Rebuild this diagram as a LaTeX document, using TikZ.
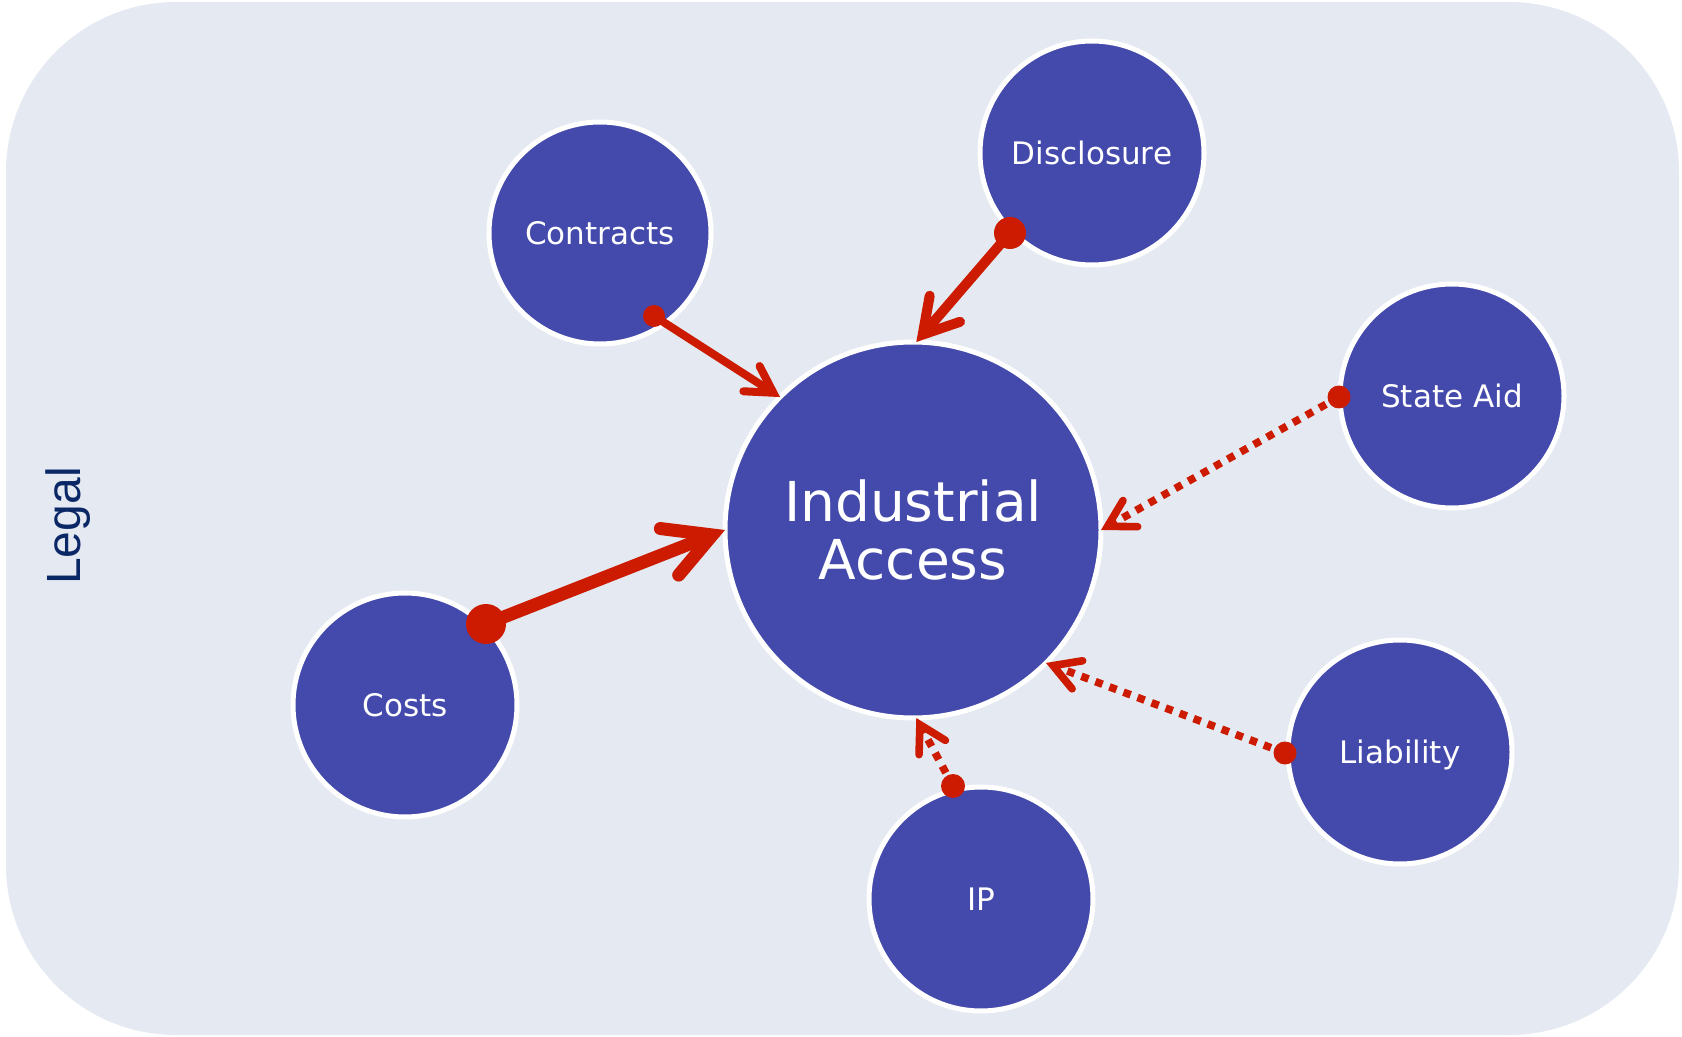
\documentclass[tikz,border=0pt]{standalone}
\usepackage{fontspec}
\setmainfont{DejaVu Sans}
\newfontfamily\legalfont{Liberation Sans}
\usetikzlibrary{arrows.meta}
\definecolor{bgpanel}{HTML}{E4E9F2}
\definecolor{bubble}{HTML}{444AAB}
\definecolor{arrowred}{HTML}{CC1B00}
\definecolor{navy}{HTML}{0B2866}
\tikzset{
  bub/.style={circle, fill=bubble, draw=white, line width=2.5pt, inner sep=0pt, outer sep=0pt,
    minimum size=112pt, text=white, font=\fontsize{15.5}{18}\selectfont},
  bigbub/.style={bub, minimum size=188pt, align=center, font=\fontsize{27.5}{29}\selectfont},
  link/.style={draw=arrowred, line cap=round},
  dotlink/.style={draw=arrowred, line width=3.8pt, dash pattern=on 3.8pt off 3.7pt,
    -{Straight Barb[length=13pt, width=15pt, line cap=round, line join=miter]}},
  reddot/.style={fill=arrowred, circle, inner sep=0pt}
}
\begin{document}
\begin{tikzpicture}[x=0.5pt, y=-0.5pt]
\useasboundingbox (0,0) rectangle (1682,1037);
\fill[bgpanel, rounded corners=85pt] (6,2) rectangle (1679,1035);
\node[text=navy, font=\legalfont\fontsize{24}{28}\selectfont, rotate=90] (legal) at (68,526) {Legal};

\node[bigbub] (ia) at (913,530) {Industrial\\Access};
\node[bub, minimum size=111pt] (contracts) at (600,233) {Contracts};
\node[bub] (disclosure) at (1092,153) {Disclosure};
\node[bub] (stateaid) at (1452,396) {State Aid};
\node[bub] (liability) at (1400,752) {\raisebox{0pt}[\height][0pt]{Liability}};
\node[bub] (ip) at (981,899) {IP};
\node[bub] (costs) at (405,705) {Costs};

% dot anchors
\coordinate (dc) at (654,316);
\coordinate (dd) at (1010,233);
\coordinate (ds) at (1339,397);
\coordinate (dl) at (1285,753);
\coordinate (di) at (953,786);
\coordinate (dk) at (486,624);

% arrows
\draw[link, line width=4pt, -{Straight Barb[length=13pt, width=15pt, line cap=round, line join=miter]}] (dc) -- (ia.135);
\draw[link, line width=5pt, -{Straight Barb[length=17pt, width=20pt, line cap=round, line join=miter]}] (dd) -- (ia.89);
\draw[link, line width=6.5pt, -{Straight Barb[length=23pt, width=25pt, line cap=round, line join=miter]}] (dk) -- (ia.180);
\draw[dotlink] (ds) -- (ia.0);
\draw[dotlink] (dl) -- (ia.-45);
\draw[dotlink] (di) -- (ia.-89);

\node[reddot, minimum size=11pt] at (dc) {};
\node[reddot, minimum size=16pt] at (dd) {};
\node[reddot, minimum size=11.5pt] at (ds) {};
\node[reddot, minimum size=11.5pt] at (dl) {};
\node[reddot, minimum size=12pt] at (di) {};
\node[reddot, minimum size=20pt] at (dk) {};
\end{tikzpicture}
\end{document}
